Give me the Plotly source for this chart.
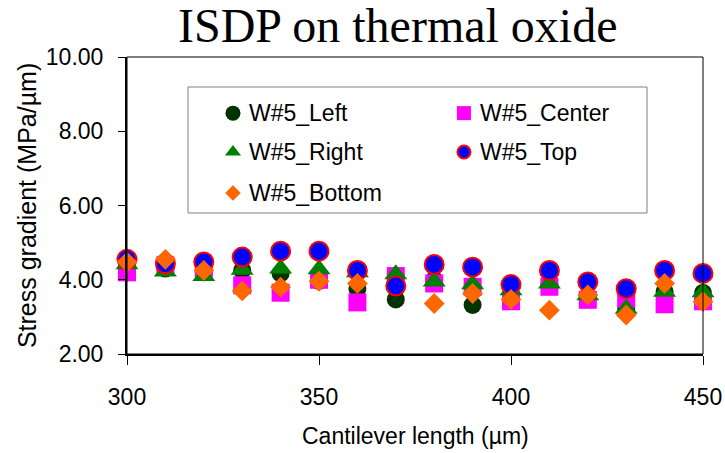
import plotly.graph_objects as go

# ---- data ----
lengths = [300, 310, 320, 330, 340, 350, 360, 370, 380, 390, 400, 410, 420, 430, 440, 450]
w5_left   = [4.42, 4.30, 4.20, 4.25, 4.17, 3.97, 3.76, 3.47, 4.00, 3.32, 3.60, 3.85, 3.55, 3.20, 3.68, 3.65]
w5_center = [4.20, 4.39, 4.30, 3.85, 3.65, 4.00, 3.39, 4.10, 3.90, 3.81, 3.42, 3.81, 3.46, 3.49, 3.34, 3.42]
w5_right  = [4.42, 4.22, 4.10, 4.27, 4.30, 4.28, 4.20, 4.15, 3.95, 3.88, 3.72, 3.90, 3.58, 3.22, 3.68, 3.66]
w5_top    = [4.55, 4.43, 4.48, 4.61, 4.77, 4.77, 4.25, 3.83, 4.41, 4.34, 3.87, 4.25, 3.94, 3.76, 4.25, 4.17]
w5_bottom = [4.48, 4.55, 4.25, 3.70, 3.80, 3.96, 3.90, None, 3.36, 3.63, 3.47, 3.18, 3.59, 3.05, 3.90, 3.41]

series_names = ["W#5_Left", "W#5_Center", "W#5_Right", "W#5_Top", "W#5_Bottom"]
series_values = [w5_left, w5_center, w5_right, w5_top, w5_bottom]

y_ticks = [2, 4, 6, 8, 10]
y_tick_labels = ["2.00", "4.00", "6.00", "8.00", "10.00"]
x_ticks = [300, 350, 400, 450]

# ---- styles ----
styles = [
    dict(symbol="circle", size=18, color="#003300"),
    dict(symbol="square", size=18, color="#FF00FF"),
    dict(symbol="triangle-up", size=20, color="#008000"),
    dict(symbol="circle", size=19, color="#0000FF", line=dict(color="#FF0000", width=2)),
    dict(symbol="diamond", size=16, color="#FF6600"),
]
legend_styles = [
    dict(symbol="circle", size=15, color="#003300"),
    dict(symbol="square", size=14, color="#FF00FF"),
    dict(symbol="triangle-up", size=14, color="#008000"),
    dict(symbol="circle", size=13, color="#0000FF", line=dict(color="#FF0000", width=2)),
    dict(symbol="diamond", size=12, color="#FF6600"),
]
# legend key positions in (overlay axis) fractions of the plot area
leg_x = [0.184, 0.585, 0.184, 0.585, 0.184]
leg_y = [0.811, 0.811, 0.680, 0.680, 0.542]
leg_text_dx = 0.0245

SANS = "Liberation Sans"
fig = go.Figure()

for name, vals, st in zip(series_names, series_values, styles):
    fig.add_trace(go.Scatter(
        x=lengths, y=vals, name=name, mode="markers",
        marker=st, cliponaxis=False, showlegend=False,
    ))

for name, st, lx, ly in zip(series_names, legend_styles, leg_x, leg_y):
    fig.add_trace(go.Scatter(
        x=[lx], y=[ly], mode="markers", marker=st,
        xaxis="x2", yaxis="y2", showlegend=False, hoverinfo="skip",
        cliponaxis=False,
    ))
    fig.add_annotation(
        x=lx + leg_text_dx, y=ly, xref="x2", yref="y2", text=name,
        showarrow=False, xanchor="left", yanchor="middle",
        font=dict(family=SANS, size=23, color="black"),
    )

# legend frame
fig.add_shape(type="rect", xref="paper", yref="paper",
              x0=0.1059, x1=0.9028, y0=0.4747, y1=0.899,
              line=dict(color="#808080", width=1), fillcolor="white", layer="below")
# plot frame (top/right thin lines)
fig.add_shape(type="rect", xref="paper", yref="paper", x0=0, x1=1, y0=0, y1=1,
              line=dict(color="black", width=1), layer="above")

# title
fig.add_annotation(text="ISDP on thermal oxide", xref="paper", yref="paper",
                   x=0.4705, y=1.1077, xanchor="center", yanchor="middle",
                   showarrow=False,
                   font=dict(family="Liberation Serif", size=48, color="black"))
# axis titles
fig.add_annotation(text="Stress gradient (MPa/µm)", xref="paper", yref="paper",
                   x=-0.1736, y=0.498, xanchor="center", yanchor="middle",
                   textangle=-90, showarrow=False,
                   font=dict(family=SANS, size=25, color="black"))
fig.add_annotation(text="Cantilever length (µm)", xref="paper", yref="paper",
                   x=0.5, y=-0.276, xanchor="center", yanchor="middle",
                   showarrow=False,
                   font=dict(family=SANS, size=23, color="black"))

fig.update_layout(
    width=725, height=453,
    margin=dict(l=127, r=22, t=57, b=99, autoexpand=False),
    paper_bgcolor="white", plot_bgcolor="white",
    showlegend=False,
    xaxis=dict(range=[300, 450], tickvals=x_ticks, ticks="outside", ticklen=9,
               tickwidth=1, tickcolor="black", showline=True, linewidth=2,
               linecolor="black", showgrid=False, zeroline=False, automargin=False,
               tickfont=dict(family=SANS, size=23, color="black"),
               ticklabelstandoff=12),
    yaxis=dict(range=[2, 10], tickvals=y_ticks, ticktext=y_tick_labels,
               ticks="outside", ticklen=7, tickwidth=1, tickcolor="black",
               showline=True, linewidth=2, linecolor="black", showgrid=False,
               zeroline=False, automargin=False,
               tickfont=dict(family=SANS, size=23, color="black"),
               ticklabelstandoff=10),
    xaxis2=dict(overlaying="x", range=[0, 1], visible=False, anchor="y2"),
    yaxis2=dict(overlaying="y", range=[0, 1], visible=False, anchor="x2"),
)

fig.write_html("out.html")
